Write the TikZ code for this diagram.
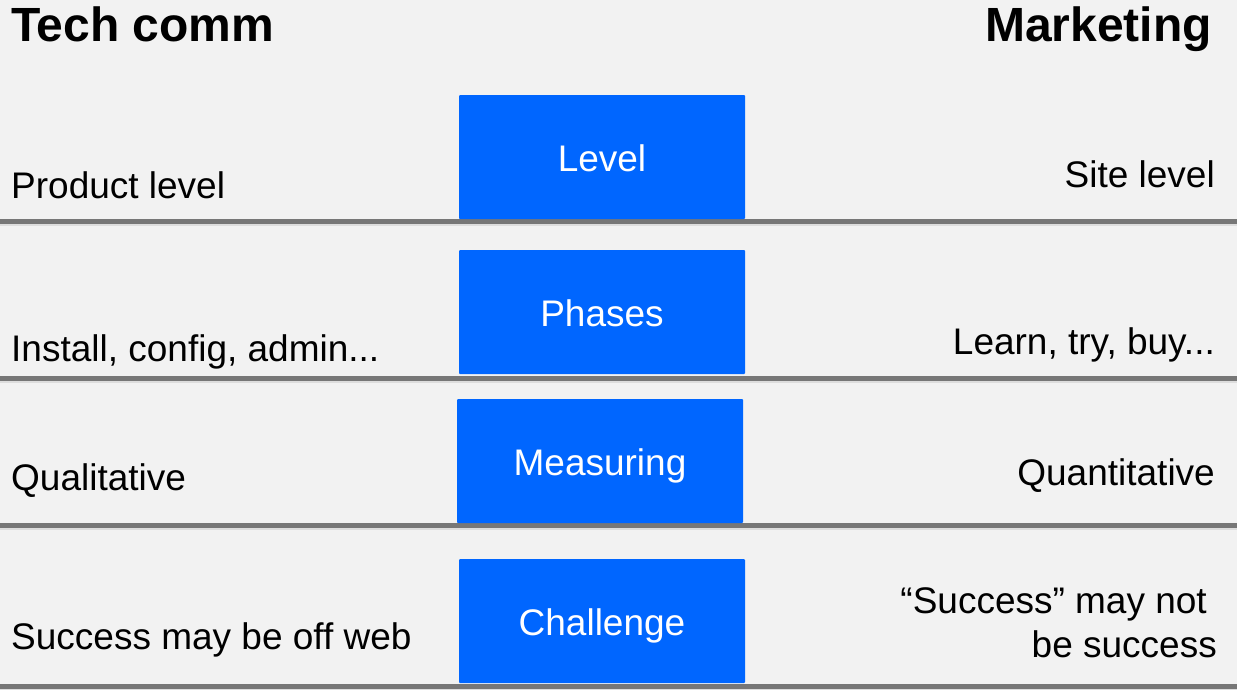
\documentclass[tikz,border=0pt]{standalone}
\usepackage{fontspec}
\setmainfont{Liberation Sans}
\definecolor{bgcol}{HTML}{F2F2F2}
\definecolor{boxblue}{HTML}{0066FF}
\definecolor{rulegray}{HTML}{777777}
\definecolor{shadegray}{HTML}{DDDDDD}
\begin{document}
\begin{tikzpicture}[x=1pt,y=-1pt,
  topic/.style={fill=boxblue, text=white, rounded corners=1pt, inner sep=0pt,
    minimum width=286pt, minimum height=124pt, text height=28pt, text depth=0pt,
    font=\fontsize{37}{40}\selectfont},
  txt/.style={inner sep=0pt, font=\fontsize{37}{44}\selectfont},
  head/.style={inner sep=0pt, font=\fontsize{48}{52}\selectfont\bfseries},
  rule/.style={draw=rulegray, line width=5pt}]
\useasboundingbox (0,0) rectangle (1237,689);
\fill[bgcol] (0,0) rectangle (1237,689);
% headings
\node[head, anchor=base west] (tc) at (11,41) {Tech comm};
\node[head, anchor=base east] (mk) at (1212,41) {Marketing};
% rules
\foreach \y in {221.5,378.5,525.5,686} {
  \path[draw=shadegray, line width=2.5pt] (0,\y+3.5) -- (1237,\y+3.5);
  \path[rule] (0,\y) -- (1237,\y);
}
% middle boxes
\node[topic] (1) at (602,157) {Level};
\node[topic] (2) at (602,312) {Phases};
\node[topic] (3) at (600,461) {Measuring};
\node[topic] (4) at (602,621) {Challenge};
% left column
\node[txt, anchor=base west] (l1) at (11,198) {Product level};
\node[txt, anchor=base west] (l2) at (11,361) {Install, config, admin...};
\node[txt, anchor=base west] (l3) at (11,490) {Qualitative};
\node[txt, anchor=base west] (l4) at (11,649) {Success may be off web};
% right column
\node[txt, anchor=base east] (r1) at (1215,187) {Site level};
\node[txt, anchor=base east] (r2) at (1215,354) {Learn, try, buy...};
\node[txt, anchor=base east] (r3) at (1215,485) {Quantitative};
\node[txt, anchor=base east, align=right] (r4) at (1217,657) {“Success” may not\kern10pt\\be success};
\end{tikzpicture}
\end{document}
